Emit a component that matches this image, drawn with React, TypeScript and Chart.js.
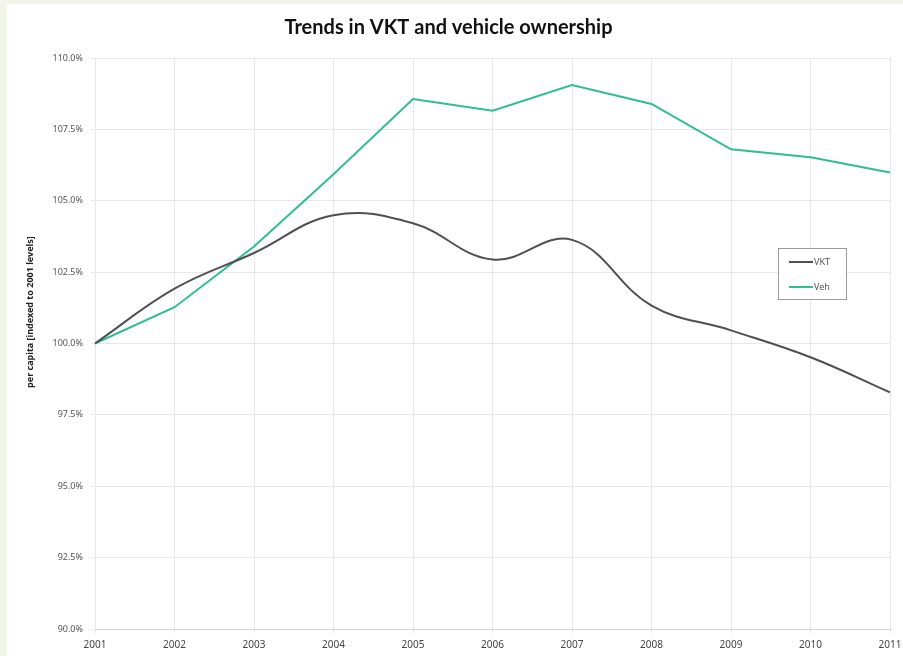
import React, { useEffect, useRef } from "react";
import { Chart, registerables } from "chart.js";

Chart.register(...registerables);

const years = ["2001", "2002", "2003", "2004", "2005", "2006", "2007", "2008", "2009", "2010", "2011"];
const vktValues = [100, 101.92, 103.17, 104.49, 104.21, 102.94, 103.63, 101.33, 100.46, 99.52, 98.29];
const vehValues = [100, 101.27, 103.4, 105.93, 108.56, 108.15, 109.05, 108.39, 106.8, 106.52, 105.99];
const yMin = 90;
const yMax = 110;
const yStep = 2.5;
const chartTitle = "Trends in VKT and vehicle ownership";
const yAxisTitle = "per capita [indexed to 2001 levels]";

const legendBoxPlugin = {
  id: "legendBox",
  afterDraw(chart: any) {
    const { ctx, chartArea } = chart;
    const boxW = 68;
    const boxH = 51;
    const x = chartArea.right - 44 - boxW;
    const y = chartArea.top + 190;
    ctx.save();
    ctx.fillStyle = "#ffffff";
    ctx.fillRect(x, y, boxW, boxH);
    ctx.strokeStyle = "#9a9a9a";
    ctx.lineWidth = 1;
    ctx.strokeRect(x + 0.5, y + 0.5, boxW, boxH);
    ctx.font = "9px 'Noto Sans'";
    ctx.textBaseline = "middle";
    chart.data.datasets.forEach((ds: any, i: number) => {
      const ly = y + 14 + i * 25;
      ctx.strokeStyle = ds.borderColor;
      ctx.lineWidth = 2;
      ctx.beginPath();
      ctx.moveTo(x + 11, ly);
      ctx.lineTo(x + 35, ly);
      ctx.stroke();
      ctx.fillStyle = "#555555";
      ctx.textAlign = "left";
      ctx.fillText(ds.label, x + 36, ly);
    });
    ctx.restore();
  },
};

const yTitlePlugin = {
  id: "yTitle",
  afterDraw(chart: any) {
    const { ctx, chartArea } = chart;
    ctx.save();
    ctx.translate(23, chartArea.top + chartArea.height * 0.445);
    ctx.rotate(-Math.PI / 2);
    ctx.font = "bold 9px 'Noto Sans'";
    ctx.fillStyle = "#222222";
    ctx.textAlign = "center";
    ctx.textBaseline = "middle";
    ctx.fillText(yAxisTitle, 0, 0);
    ctx.restore();
  },
};

export default function App() {
  const ref = useRef<HTMLCanvasElement | null>(null);

  useEffect(() => {
    if (!ref.current) return;
    const chart = new Chart(ref.current, {
      type: "line",
      data: {
        labels: years,
        datasets: [
          {
            label: "VKT",
            data: vktValues,
            borderColor: "#505050",
            backgroundColor: "#505050",
            borderWidth: 2,
            pointRadius: 0,
            tension: 0.4,
            fill: false,
          },
          {
            label: "Veh",
            data: vehValues,
            borderColor: "#2fbf8c",
            backgroundColor: "#2fbf8c",
            borderWidth: 2,
            pointRadius: 0,
            tension: 0,
            fill: false,
          },
        ],
      },
      options: {
        animation: false,
        responsive: false,
        maintainAspectRatio: false,
        layout: { padding: { left: 0, right: 13, top: 0, bottom: 0 } },
        plugins: {
          legend: { display: false },
          tooltip: { enabled: false },
          title: {
            display: true,
            text: chartTitle,
            color: "#111111",
            font: { family: "Lato", size: 20, weight: "bold" },
            padding: { top: 12, bottom: 18 },
          },
        },
        scales: {
          x: {
            grid: { color: "#e8e8e8", tickLength: 4, drawTicks: true },
            border: { color: "#d4d4d4" },
            ticks: {
              color: "#444444",
              font: { family: "Noto Sans", size: 10 },
              maxRotation: 0,
              autoSkip: false,
              padding: 6,
            },
            afterFit(scale: any) {
              scale.height = 27;
              scale.paddingRight = 0;
              scale.paddingLeft = 0;
            },
          },
          y: {
            min: yMin,
            max: yMax,
            grid: { color: "#e8e8e8", tickLength: 4 },
            border: { color: "#e8e8e8" },
            ticks: {
              stepSize: yStep,
              color: "#555555",
              font: { family: "Noto Sans", size: 9 },
              padding: 8,
              callback: (v: any) => Number(v).toFixed(1) + "%",
            },
            afterFit(scale: any) {
              scale.width = 88;
            },
          },
        },
      },
      plugins: [legendBoxPlugin, yTitlePlugin],
    });
    return () => chart.destroy();
  }, []);

  return (
    <div style={{ position: "fixed", left: 0, top: 0, width: 903, height: 656, background: "#f1f6e9" }}>
      <div style={{ position: "absolute", left: 7, top: 4, width: 896, height: 652, background: "#ffffff" }}>
        <canvas ref={ref} width={896} height={652} style={{ display: "block" }} />
      </div>
    </div>
  );
}
